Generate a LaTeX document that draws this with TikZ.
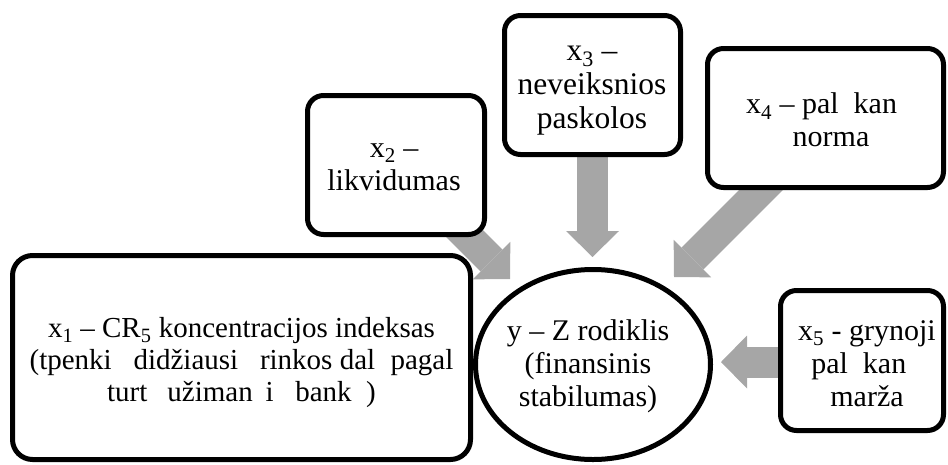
\documentclass[tikz,border=0pt]{standalone}
\usepackage{fontspec}
\setmainfont{Liberation Serif}
\usetikzlibrary{arrows.meta,backgrounds,calc,shapes.geometric}
\definecolor{arrowgray}{HTML}{A6A6A6}
% gap left by a glyph the font could not show; kept even at a line end
\newcommand{\gapw}[1]{\hspace{#1}\mbox{}}
\tikzset{
  factor/.style={draw=black, line width=5pt, fill=white, rounded corners=16pt, inner sep=0pt},
  target/.style={draw=black, line width=5pt, fill=white, ellipse, inner sep=0pt},
  label/.style={align=center, inner sep=0pt, font=\fontsize{30}{33}\selectfont},
  flowarrow/.style={arrowgray, line width=31pt, line cap=butt,
    -{Triangle[width=53pt 0 0, length=26pt 0 0, line width=0pt 0 0]}}
}
\begin{document}
\begin{tikzpicture}[x=1pt, y=-1pt]
  \useasboundingbox (0,0) rectangle (948,464);

  % factor boxes
  \node[factor, rounded corners=20pt, minimum width=458pt, minimum height=204pt] (x1) at (241.5,357.5) {};
  \node[factor, minimum width=177pt, minimum height=139pt] (x2) at (396,165) {};
  \node[factor, minimum width=176pt, minimum height=139pt] (x3) at (592.5,85) {};
  \node[factor, minimum width=236pt, minimum height=139pt] (x4) at (825.5,118) {};
  \node[factor, minimum width=163pt, minimum height=140pt] (x5) at (862,360.5) {};
  % central indicator
  \node[target, minimum width=235pt, minimum height=190pt] (y) at (593,364.5) {};

  % arrow tips
  \coordinate (t2) at (510,279);
  \coordinate (t3) at (592.5,257);
  \coordinate (t4) at (674,277);
  \coordinate (t5) at (721,362);

  \begin{scope}[on background layer]
    \draw[flowarrow] (x2.center) -- (t2);
    \draw[flowarrow] (x3.center) -- (t3);
    \draw[flowarrow] ($(t4)+(150,-150)$) -- (t4);
    \draw[flowarrow] (x5.center |- t5) -- (t5);
  \end{scope}

  % texts
  \node[label, font=\fontsize{29}{32}\selectfont] (x1t) at (241.5,363)
    {x\textsubscript{1} – CR\textsubscript{5} koncentracijos indeksas\\
     (tpenki\gapw{0.75em}didžiausi\gapw{0.75em}rinkos dal\gapw{0.53em}pagal\\
     turt\gapw{0.69em}užiman\gapw{0.44em}i\gapw{0.75em}bank\gapw{0.5em})};
  \node[label] (x2t) at (394,167) {x\textsubscript{2} –\\likvidumas};
  \node[label, font=\fontsize{31.5}{34}\selectfont] (x3t) at (592,91) {x\textsubscript{3} –\\neveiksnios\\paskolos};
  \node[label] (x4t) at (831,120) {x\textsubscript{4} – pal\gapw{0.5em}kan\gapw{0.63em}\\norma};
  \node[label] (x5t) at (867,364) {x\textsubscript{5} - grynoji\\pal\gapw{0.5em}kan\gapw{0.55em}\\marža};
  \node[label] (yt) at (588,366) {y – Z rodiklis\\(finansinis\\stabilumas)};
\end{tikzpicture}
\end{document}
